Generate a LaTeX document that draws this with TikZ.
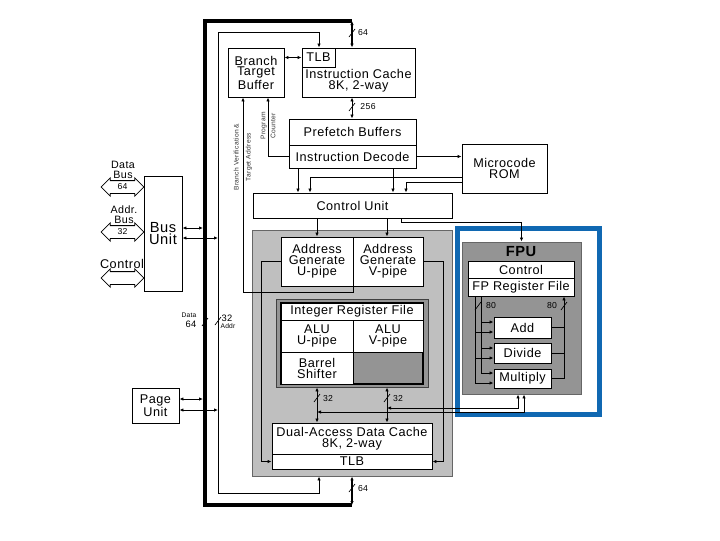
\documentclass[tikz,border=0pt]{standalone}
\usepackage{fontspec}
\setmainfont{Liberation Sans}[LetterSpace=4]
\usetikzlibrary{arrows.meta,fit,shapes.arrows}
\newcommand\blkfont{\fontsize{9.5}{8.2}\selectfont}
\newcommand\lblfont{\fontsize{6.5}{7}\selectfont}
\newcommand\rotfont{\fontsize{5}{9}\selectfont}
\newcommand\smallfont{\fontsize{5}{6}\selectfont}
\definecolor{fpublue}{RGB}{16,104,178}
\tikzset{
  blk/.style={draw,fill=white,line width=0.7pt,inner sep=0pt},
  txt/.style={align=center,font=\blkfont,inner sep=0pt},
  grp/.style={draw=black!60,line width=0.7pt,inner sep=0pt},
  lbl/.style={font=\lblfont,inner sep=0pt},
  rot/.style={rotate=90,align=center,font=\rotfont,inner sep=0pt,text=black!80},
  dbl/.style={double arrow,draw,fill=white,line width=0.6pt,minimum height=32pt,
    text height=6pt,text depth=3pt,double arrow head extend=2pt,inner sep=0pt,font=\lblfont},
  busmark/.pic={\draw[line width=0.5pt] (-3,4) -- (3,-4);},
  >={Latex[length=3pt,width=2.6pt]}
}
\begin{document}
\begin{tikzpicture}[x=0.75pt,y=-0.75pt,line width=0.6pt]
  \useasboundingbox (0,0) rectangle (720,540);
  % grey units
  \node[grp,fill=black!25,fit={(252,230) (452,476)}] (intu) {};
  \node[grp,fill=black!42,draw=black!75,fit={(276,299) (428,387)}] (irfg) {};
  \draw[line width=1.2pt] (281,303) rectangle (423,384);
  \draw[fpublue,line width=3.75pt] (457,228.5) rectangle (599.5,414.5);
  \node[grp,fill=black!42,fit={(462,242) (581,394)}] (fpu) {};
  \node[font=\bfseries\fontsize{11}{11}\selectfont] at (521,252) {FPU};

  % blocks
  \node[blk,fit={(228,48) (284,97)},label={[txt]center:Branch\\Target\\Buffer}] (btb) {};
  \node[blk,fit={(302,48) (415,97)}] (ic) {};
  \node[blk,fit={(302,48) (335,67)},label={[txt]center:TLB}] (tlb) {};
  \node[txt] at (358.5,81) {Instruction Cache\\8K, 2-way};
  \node[blk,fit={(289,119) (416,145)},label={[txt]center:Prefetch Buffers}] (pf) {};
  \node[blk,fit={(289,145) (416,168)},label={[txt]center:Instruction Decode}] (id) {};
  \node[blk,fit={(462,144) (547,193)},label={[txt]center:Microcode\\ROM}] (rom) {};
  \node[blk,fit={(253,193) (452,218)},label={[txt]center:Control Unit}] (cu) {};
  \node[blk,fit={(281,237) (353,286)},label={[txt]center:Address\\Generate\\U-pipe}] (agu) {};
  \node[blk,fit={(353,237) (423,286)},label={[txt]center:Address\\Generate\\V-pipe}] (agv) {};
  \node[blk,fit={(281,303) (423,320)},label={[txt]center:Integer Register File}] (irf) {};
  \node[blk,fit={(281,320) (353,352)},label={[txt]center:ALU\\U-pipe}] (aluu) {};
  \node[blk,fit={(353,320) (423,352)},label={[txt]center:ALU\\V-pipe}] (aluv) {};
  \node[blk,fit={(281,352) (353,384)},label={[txt]center:Barrel\\Shifter}] (bsh) {};
  \node[blk,fit={(272,423) (432,454)},label={[txt]center:{Dual-Access Data Cache\\8K, 2-way}}] (dc) {};
  \node[blk,fit={(272,454) (432,469)},label={[txt]center:TLB}] (dtlb) {};
  \node[blk,fit={(144,176) (182,291)},label={[txt,font=\fontsize{11}{9.5}\selectfont]center:Bus\\Unit}] (busu) {};
  \node[blk,fit={(132,388) (179,423)},label={[txt]center:Page\\Unit}] (page) {};
  \node[blk,fit={(468,261) (574,278)},label={[txt]center:Control}] (fctl) {};
  \node[blk,fit={(468,278) (574,296)},label={[txt]center:FP Register File}] (fprf) {};
  \node[blk,fit={(494,317) (551,338)},label={[txt]center:Add}] (fadd) {};
  \node[blk,fit={(494,343) (551,363)},label={[txt]center:Divide}] (fdiv) {};
  \node[blk,fit={(494,369) (551,388)},label={[txt]center:Multiply}] (fmul) {};

  % external buses
  \node[dbl] (dbus) at (122.5,187) {64};
  \node[dbl] (abus) at (122.5,232) {32};
  \node[dbl] (cbus) at (122.5,278) {};
  \node[align=center,font=\fontsize{8}{7.5}\selectfont] at (123,170) {Data\\Bus};
  \node[align=center,font=\fontsize{8}{7.5}\selectfont] at (124,215) {Addr.\\Bus};
  \node[font=\fontsize{9.5}{9.5}\selectfont] at (122,264) {Control};

  % data and address buses
  \coordinate (b64) at (352,21);
  \coordinate (b64s) at (352,505);
  \draw[line width=3pt] (b64) -| (205,505) -- (b64s);
  \draw[<->,line width=1pt] (b64) -- (ic.north -| b64);
  \draw[<->,line width=1pt] (intu.south -| b64s) -- (b64s);
  \coordinate (tn) at (319,32);
  \coordinate (tsw) at (218,493);
  \coordinate (ts) at (319,493);
  \draw[<->] (ic.north -| tn) -- (tn) -| (tsw) -- (ts) -- (intu.south -| ts);
  \draw[<->] (busu.east |- 0,228) -- (203,228);
  \draw[<->] (busu.east |- 0,238) -- (218,238);
  \draw[<->] (page.east |- 0,399) -- (203,399);
  \draw[<->] (page.east |- 0,410) -- (218,410);

  % front end
  \draw[<->] (btb.east |- tlb.west) -- (tlb.west);
  \draw[<->] (ic.south -| b64) -- (pf.north -| b64);
  \coordinate (pcx) at (268,156);
  \draw[->] (id.west) -| (btb.south -| pcx);
  \coordinate (bvx) at (243,292);
  \draw[->] (agu.south east) |- (bvx) -- (btb.south -| bvx);
  \draw[->] (id.east) -- (rom.west |- id.east);
  \foreach \x in {298,393} \draw[->] (id.south -| \x,0) -- (cu.north -| \x,0);
  \draw[->] (rom.west |- 0,177) -| (cu.north -| 310,0);
  \draw[->] (rom.west |- 0,182) -| (cu.north -| 406,0);
  \draw[->] (cu.south -| 401,0) -- ++(0,4) -| (fpu.north);
  \draw[->] (cu.south -| 317,0) -- (agu.north -| 317,0);
  \draw[->] (cu.south -| 387,0) -- (agv.north -| 387,0);

  % integer unit
  \draw[->] (agu.west) -- ++(-19,0) |- (dtlb.west);
  \draw[->] (agv.east) -- ++(20,0) |- (dtlb.east);
  \foreach \x in {317,387} \draw[<->] (irfg.south -| \x,0) -- (dc.north -| \x,0);
  \coordinate (ub) at (317,412);
  \coordinate (vb) at (387,408);
  \draw[<->] (vb) -| (fpu.south -| 518,0);
  \draw[<->] (ub) -| (fpu.south -| 524,0);

  % FPU
  \coordinate (fout) at (564,296);
  \draw (fprf.south -| 481,0) -- (481,373);
  \draw (fprf.south -| 475,0) -- (475,383);
  \foreach \b/\y in {fadd/322,fdiv/348,fmul/373} {
    \draw[->] (481,\y) -- (\b.west |- 0,\y);
    \draw[->] (475,\y+10) -- (\b.west |- 0,\y+10);
  }
  \foreach \b in {fadd,fdiv,fmul} \draw (\b.east) -- (\b.east -| fout);
  \draw[->] (fout |- fmul.east) -- (fprf.south -| fout);

  % bus widths
  \pic at (352,33) {busmark};   \node[lbl] at (363,33) {64};
  \pic at (352,107) {busmark};  \node[lbl] at (368,107) {256};
  \pic at (317,398) {busmark};  \node[lbl] at (328,399) {32};
  \pic at (387,398) {busmark};  \node[lbl] at (398,399) {32};
  \pic at (352,488) {busmark};  \node[lbl] at (363,489) {64};
  \pic at (205,322) {busmark};
  \node[font=\smallfont] at (189,315) {Data};
  \node[lbl,font=\fontsize{7}{7}\selectfont] at (191,324) {64};
  \pic at (218,321) {busmark};
  \node[lbl,font=\fontsize{7}{7}\selectfont] at (227,318) {32};
  \node[font=\smallfont] at (228,326) {Addr};
  \pic at (478,306) {busmark};  \node[lbl] at (491,306) {80};
  \pic at (564,306) {busmark};  \node[lbl] at (552,306) {80};
  \node[rot] at (243,157) {Branch Verification \&\\Target Address};
  \node[rot,font=\fontsize{5}{7.5}\selectfont] at (268,126) {Program\\Counter};
\end{tikzpicture}
\end{document}
